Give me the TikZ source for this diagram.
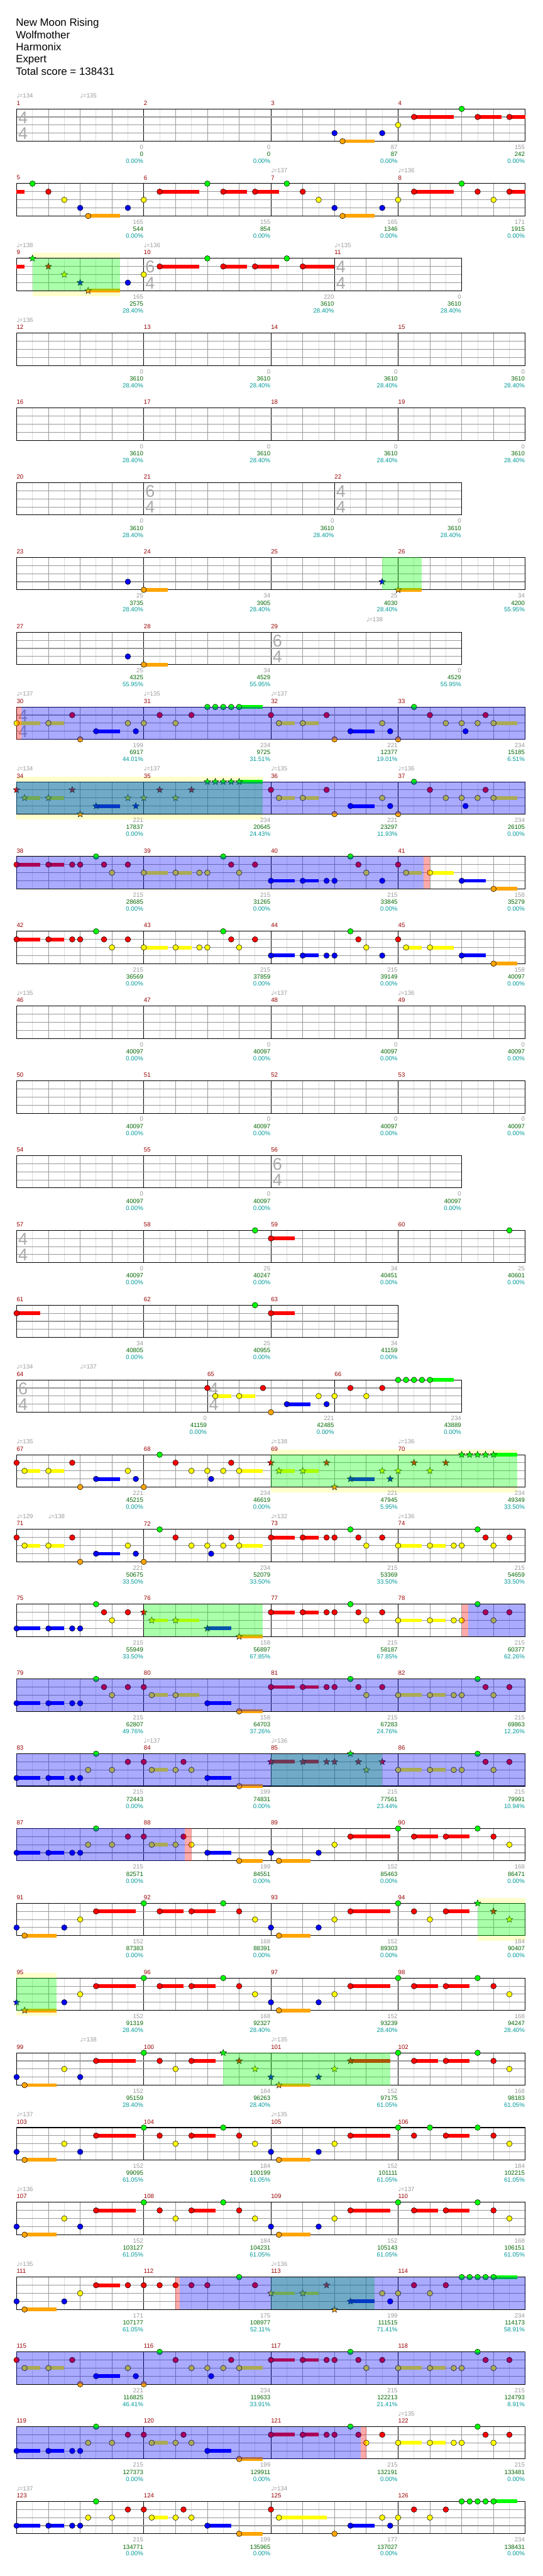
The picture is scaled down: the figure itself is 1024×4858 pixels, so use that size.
\documentclass[tikz,border=0pt]{standalone}
\usepackage{fontspec}
\setmainfont{Liberation Sans}
\newfontfamily\notefont{DejaVu Sans}
\usepackage{tikz}
\usetikzlibrary{shapes.geometric}

\definecolor{noteG}{HTML}{00FF00}
\definecolor{noteR}{HTML}{FF0000}
\definecolor{noteY}{HTML}{FFFF00}
\definecolor{noteB}{HTML}{0000FF}
\definecolor{noteO}{HTML}{FFA500}
\definecolor{barred}{HTML}{990000}
\definecolor{gaingray}{HTML}{9A9A9A}
\definecolor{totalgreen}{HTML}{006600}
\definecolor{pctteal}{HTML}{009999}
\definecolor{tsgray}{HTML}{AAAAAA}
\definecolor{halo}{HTML}{FFFFCC}
\definecolor{gridlight}{HTML}{DDDDDD}
\definecolor{gridmid}{HTML}{999999}

\newcommand{\lblfont}{\fontsize{11.5}{13}\selectfont}
\def\laneG{0}\def\laneR{1}\def\laneY{2}\def\laneB{3}\def\laneO{4}

% staff of #1 beats, barlines at #2
\newcommand{\fretgrid}[2]{%
  \fill[white] (0,0) rectangle (#1,61);
  \pgfmathtruncatemacro\nhalf{2*#1-1}%
  \foreach \h in {1,...,\nhalf} \draw[eighthline] (\h/2,0) -- (\h/2,61);
  \pgfmathtruncatemacro\nbeat{#1-1}%
  \foreach \h in {1,...,\nbeat} \draw[beatline] (\h,0) -- (\h,61);
  \foreach \h in {#2} \draw[barline] (\h,0) -- (\h,61);
  \foreach \h in {15.25,30.5,45.75} \draw[laneline] (0,\h) -- (#1,\h);
  \draw[staffframe] (0,0) rectangle (#1,61);
}
\newcommand{\tails}[1]{\foreach \a/\e/\l in {#1}{%
  \edef\ly{\csname lane\l\endcsname}%
  \fill[fill=note\l] (\a,15.25*\ly-3.5) rectangle (\e,15.25*\ly+3.5);}}
\newcommand{\gems}[1]{\foreach \b/\l [count=\k] in {#1}{%
  \edef\ly{\csname lane\l\endcsname}%
  \node[gem=\l] (gem\k) at (\b,15.25*\ly) {};}}
\newcommand{\stargems}[1]{\foreach \b/\l [count=\k] in {#1}{%
  \edef\ly{\csname lane\l\endcsname}%
  \node[stargem=\l] (star\k) at (\b,15.25*\ly) {};}}
\newcommand{\tsig}[3]{%
  \node[tsnum] (tsa#1) at (#1,16.4) {#2};
  \node[tsnum] (tsb#1) at (#1,46.4) {#3};}
\newcommand{\tempo}[2]{\node[lbltempo] (tp#1) at (#1,-20.5) {{\notefont ♩}\kern-0.5pt=#2};}
\newcommand{\meas}[6]{%
  \node[lblbar] (m#3) at (#1,-11) {#3};
  \node[lblgain] (g#3) at (#2,72.4) {#4};
  \node[lbltotal] (s#3) at (#2,85.7) {#5};
  \node[lblpct] (p#3) at (#2,98.7) {#6\%};}
\newcommand{\spzone}[2]{\fill[spfill] (#1,0) rectangle (#2,61);}
\newcommand{\odzone}[2]{\fill[odfill] (#1,0) rectangle (#2,61);}
\newcommand{\actzone}[2]{\fill[actfill] (#1,0) rectangle (#2,61);}
\newcommand{\halozone}[2]{\fill[halofill] (#1,-10) rectangle (#2,71.3);}

\begin{document}
\begin{tikzpicture}[
  x=1pt, y=-1pt,
  chartrow/.style={shift={(31.3,64.3+141*#1)}, x=60pt, name prefix=r#1-},
  eighthline/.style={gridlight, line width=1pt},
  beatline/.style={gridmid, line width=1pt},
  laneline/.style={gridmid, line width=1.3pt},
  barline/.style={black, line width=1pt},
  staffframe/.style={black, line width=1.2pt},
  gem/.style={circle, draw=black, line width=0.6pt, fill=note#1,
              minimum size=10.5pt, inner sep=0pt},
  stargem/.style={star, star points=5, star point ratio=2.3, draw=black,
              line width=0.5pt, fill=note#1, minimum size=13pt, inner sep=0pt},
  spfill/.style={fill=green, fill opacity=0.333},
  odfill/.style={fill=blue, fill opacity=0.333},
  actfill/.style={fill=red, fill opacity=0.333},
  halofill/.style={fill=halo},
  tsnum/.style={anchor=west, inner sep=0pt, xshift=3pt,
              font=\fontsize{32}{32}\selectfont, text=tsgray},
  lblbar/.style={anchor=west, inner sep=0pt, font=\lblfont, text=barred},
  lblgain/.style={anchor=east, inner sep=0pt, xshift=-0.8pt, font=\lblfont, text=gaingray},
  lbltotal/.style={anchor=east, inner sep=0pt, xshift=-0.8pt, font=\lblfont, text=totalgreen},
  lblpct/.style={anchor=east, inner sep=0pt, xshift=-0.8pt, font=\lblfont, text=pctteal},
  lbltempo/.style={anchor=base west, inner sep=0pt, font=\lblfont, text=gaingray},
  headtxt/.style={anchor=base west, inner sep=0pt, font=\fontsize{20}{23}\selectfont}
]
\fill[white] (0,0) rectangle (1024,4858);
\useasboundingbox (0,0) rectangle (1024,4858);

% Header
\node[headtxt] (song)    at (29.8,49.3)  {New Moon Rising};
\node[headtxt] (artist)  at (29.8,72.4)  {Wolfmother};
\node[headtxt] (charter) at (29.8,95.5)  {Harmonix};
\node[headtxt] (level)   at (29.8,118.6) {Expert};
\node[headtxt] (total)   at (29.8,141.7) {Total score = 138431};

% m1-m4
\begin{scope}[chartrow=1]
\fretgrid{16}{4,8,12}
\tsig{0}{4}{4}
\tails{10.25/11.25/O, 12.5/13.75/R, 14.5/15.25/R, 15.5/16/R}
\gems{10/B, 10.25/O, 11.5/B, 12/Y, 12.5/R, 14/G, 14.5/R, 15.5/R}
\tempo{0}{134}\tempo{2}{135}
\meas{0}{4}{1}{0}{0}{0.00}
\meas{4}{8}{2}{0}{0}{0.00}
\meas{8}{12}{3}{87}{87}{0.00}
\meas{12}{16}{4}{155}{242}{0.00}
\end{scope}

% m5-m8
\begin{scope}[chartrow=2]
\fretgrid{16}{4,8,12}
\tails{0/0.25/R, 2.25/3.25/O, 4.5/5.75/R, 6.5/7.25/R, 7.5/8.25/R, 10.25/11.25/O, 12.5/13.75/R, 15.5/16/R}
\gems{0.5/G, 1/R, 1.5/Y, 2/B, 2.25/O, 3.5/B, 4/Y, 4.5/R, 6/G, 6.5/R, 7.5/R, 8.5/G, 9/R, 9.5/Y, 10/B, 10.25/O, 11.5/B, 12/Y, 12.5/R, 14/G, 14.5/R, 15/Y, 15.5/R}
\tempo{8}{137}\tempo{12}{136}
\meas{0}{4}{5}{165}{544}{0.00}
\meas{4}{8}{6}{155}{854}{0.00}
\meas{8}{12}{7}{165}{1346}{0.00}
\meas{12}{16}{8}{171}{1915}{0.00}
\end{scope}

% m9-m11
\begin{scope}[chartrow=3]
\halozone{0.5}{3.25}
\fretgrid{14}{4,10}
\tsig{4}{6}{4}\tsig{10}{4}{4}
\tails{0/0.25/R, 2.25/3.25/O, 4.5/5.75/R, 6.5/7.25/R, 7.5/8.25/R, 9/10/R}
\stargems{0.5/G, 1/R, 1.5/Y, 2/B, 2.25/O}
\gems{3.5/B, 4/Y, 4.5/R, 6/G, 6.5/R, 7.5/R, 8.5/G, 9/R}
\spzone{0.5}{3.25}
\tempo{0}{138}\tempo{4}{136}\tempo{10}{135}
\meas{0}{4}{9}{165}{2575}{28.40}
\meas{4}{10}{10}{220}{3610}{28.40}
\meas{10}{14}{11}{0}{3610}{28.40}
\end{scope}

% m12-m15
\begin{scope}[chartrow=4]
\fretgrid{16}{4,8,12}
\tempo{0}{136}
\meas{0}{4}{12}{0}{3610}{28.40}
\meas{4}{8}{13}{0}{3610}{28.40}
\meas{8}{12}{14}{0}{3610}{28.40}
\meas{12}{16}{15}{0}{3610}{28.40}
\end{scope}

% m16-m19
\begin{scope}[chartrow=5]
\fretgrid{16}{4,8,12}
\meas{0}{4}{16}{0}{3610}{28.40}
\meas{4}{8}{17}{0}{3610}{28.40}
\meas{8}{12}{18}{0}{3610}{28.40}
\meas{12}{16}{19}{0}{3610}{28.40}
\end{scope}

% m20-m22
\begin{scope}[chartrow=6]
\fretgrid{14}{4,10}
\tsig{4}{6}{4}\tsig{10}{4}{4}
\meas{0}{4}{20}{0}{3610}{28.40}
\meas{4}{10}{21}{0}{3610}{28.40}
\meas{10}{14}{22}{0}{3610}{28.40}
\end{scope}

% m23-m26
\begin{scope}[chartrow=7]
\fretgrid{16}{4,8,12}
\tails{4/4.75/O, 12/12.75/O}
\gems{3.5/B, 4/O}
\stargems{11.5/B, 12/O}
\spzone{11.5}{12.75}
\meas{0}{4}{23}{25}{3735}{28.40}
\meas{4}{8}{24}{34}{3905}{28.40}
\meas{8}{12}{25}{25}{4030}{28.40}
\meas{12}{16}{26}{34}{4200}{55.95}
\end{scope}

% m27-m29
\begin{scope}[chartrow=8]
\fretgrid{14}{4,8}
\tsig{8}{6}{4}
\tails{4/4.75/O}
\gems{3.5/B, 4/O}
\tempo{11}{138}
\meas{0}{4}{27}{25}{4325}{55.95}
\meas{4}{8}{28}{34}{4529}{55.95}
\meas{8}{14}{29}{0}{4529}{55.95}
\end{scope}

% m30-m33
\begin{scope}[chartrow=9]
\fretgrid{16}{4,8,12}
\tsig{0}{4}{4}
\tails{0/0.75/Y, 1/1.5/Y, 2.5/3.25/B, 7/7.75/G, 8.25/8.75/Y, 9/9.5/Y, 10.5/11.25/B, 15/15.75/Y}
\gems{0/Y, 1/Y, 1.75/R, 2/O, 2.5/B, 3.5/Y, 3.75/B, 4/Y, 4.5/R, 5/Y, 5.5/R, 6/G, 6.25/G, 6.5/G, 6.75/G, 7/G, 8/R, 8.25/Y, 9/Y, 9.75/R, 10/O, 10.5/B, 11.5/Y, 11.75/B, 12/O, 12.5/G, 13/R, 13.5/Y, 14/Y, 14.12/B, 14.5/Y, 14.75/R, 15/Y}
\actzone{0}{0.16}\odzone{0.16}{16}
\tempo{0}{137}\tempo{4}{135}\tempo{8}{137}
\meas{0}{4}{30}{199}{6917}{44.01}
\meas{4}{8}{31}{234}{9725}{31.51}
\meas{8}{12}{32}{221}{12377}{19.01}
\meas{12}{16}{33}{234}{15185}{6.51}
\end{scope}

% m34-m37
\begin{scope}[chartrow=10]
\halozone{0}{7.75}
\fretgrid{16}{4,8,12}
\tails{0.25/0.75/Y, 1/1.5/Y, 2.5/3.25/B, 7/7.75/G, 8.25/8.75/Y, 9/9.5/Y, 10.5/11.25/B, 15/15.75/Y}
\stargems{0/R, 0.25/Y, 1/Y, 1.75/R, 2/O, 2.5/B, 3.5/Y, 3.75/B, 4/Y, 4.5/R, 5/Y, 5.5/R, 6/G, 6.25/G, 6.5/G, 6.75/G, 7/G}
\gems{8/R, 8.25/Y, 9/Y, 9.75/R, 10/O, 10.5/B, 11.5/Y, 11.75/B, 12/O, 12.5/G, 13/R, 13.5/Y, 14/Y, 14.12/B, 14.5/Y, 14.75/R, 15/Y}
\spzone{0}{7.75}\odzone{0}{16}
\tempo{0}{134}\tempo{4}{137}\tempo{8}{135}\tempo{12}{136}
\meas{0}{4}{34}{221}{17837}{0.00}
\meas{4}{8}{35}{234}{20645}{24.43}
\meas{8}{12}{36}{221}{23297}{11.93}
\meas{12}{16}{37}{234}{26105}{0.00}
\end{scope}

% m38-m41
\begin{scope}[chartrow=11]
\fretgrid{16}{4,8,12}
\tails{0/0.75/R, 1/1.5/R, 4/4.75/Y, 5/5.5/Y, 8/8.75/B, 9/9.5/B, 12.25/12.75/Y, 13/13.75/Y, 14/14.75/B, 15/15.75/O}
\gems{0/R, 1/R, 1.75/R, 2/R, 2.5/G, 2.75/R, 3/Y, 3.5/R, 4/Y, 5/Y, 5.75/Y, 6/Y, 6.5/G, 6.75/R, 7/Y, 7.5/R, 8/B, 9/B, 9.75/B, 10/B, 10.5/G, 10.75/R, 11/Y, 11.5/B, 12/R, 12.25/Y, 13/Y, 14/B, 15/O}
\odzone{0}{12.8}\actzone{12.8}{13}
\meas{0}{4}{38}{215}{28685}{0.00}
\meas{4}{8}{39}{215}{31265}{0.00}
\meas{8}{12}{40}{215}{33845}{0.00}
\meas{12}{16}{41}{158}{35279}{0.00}
\end{scope}

% m42-m45
\begin{scope}[chartrow=12]
\fretgrid{16}{4,8,12}
\tails{0/0.75/R, 1/1.5/R, 4/4.75/Y, 5/5.5/Y, 8/8.75/B, 9/9.5/B, 12.25/12.75/Y, 13/13.75/Y, 14/14.75/B, 15/15.75/O}
\gems{0/R, 1/R, 1.75/R, 2/R, 2.5/G, 2.75/R, 3/Y, 3.5/R, 4/Y, 5/Y, 5.75/Y, 6/Y, 6.5/G, 6.75/R, 7/Y, 7.5/R, 8/B, 9/B, 9.75/B, 10/B, 10.5/G, 10.75/R, 11/Y, 11.5/B, 12/R, 12.25/Y, 13/Y, 14/B, 15/O}
\meas{0}{4}{42}{215}{36569}{0.00}
\meas{4}{8}{43}{215}{37859}{0.00}
\meas{8}{12}{44}{215}{39149}{0.00}
\meas{12}{16}{45}{158}{40097}{0.00}
\end{scope}

% m46-m49
\begin{scope}[chartrow=13]
\fretgrid{16}{4,8,12}
\tempo{0}{135}\tempo{8}{137}\tempo{12}{136}
\meas{0}{4}{46}{0}{40097}{0.00}
\meas{4}{8}{47}{0}{40097}{0.00}
\meas{8}{12}{48}{0}{40097}{0.00}
\meas{12}{16}{49}{0}{40097}{0.00}
\end{scope}

% m50-m53
\begin{scope}[chartrow=14]
\fretgrid{16}{4,8,12}
\meas{0}{4}{50}{0}{40097}{0.00}
\meas{4}{8}{51}{0}{40097}{0.00}
\meas{8}{12}{52}{0}{40097}{0.00}
\meas{12}{16}{53}{0}{40097}{0.00}
\end{scope}

% m54-m56
\begin{scope}[chartrow=15]
\fretgrid{14}{4,8}
\tsig{8}{6}{4}
\meas{0}{4}{54}{0}{40097}{0.00}
\meas{4}{8}{55}{0}{40097}{0.00}
\meas{8}{14}{56}{0}{40097}{0.00}
\end{scope}

% m57-m60
\begin{scope}[chartrow=16]
\fretgrid{16}{4,8,12}
\tsig{0}{4}{4}
\tails{8/8.75/R}
\gems{7.5/G, 8/R, 15.5/G}
\meas{0}{4}{57}{0}{40097}{0.00}
\meas{4}{8}{58}{25}{40247}{0.00}
\meas{8}{12}{59}{34}{40451}{0.00}
\meas{12}{16}{60}{25}{40601}{0.00}
\end{scope}

% m61-m63
\begin{scope}[chartrow=17]
\fretgrid{12}{4,8}
\tails{0/0.75/R, 8/8.75/R}
\gems{0/R, 7.5/G, 8/R}
\meas{0}{4}{61}{34}{40805}{0.00}
\meas{4}{8}{62}{25}{40955}{0.00}
\meas{8}{12}{63}{34}{41159}{0.00}
\end{scope}

% m64-m66
\begin{scope}[chartrow=18]
\fretgrid{14}{6,10}
\tsig{0}{6}{4}\tsig{6}{4}{4}
\tails{6.25/6.75/Y, 7/7.5/Y, 8.5/9.25/B, 13/13.75/G}
\gems{6/R, 6.25/Y, 7/Y, 7.75/R, 8/O, 8.5/B, 9.5/Y, 9.75/B, 10/Y, 10.5/R, 11/Y, 11.5/R, 12/G, 12.25/G, 12.5/G, 12.75/G, 13/G}
\tempo{0}{134}\tempo{2}{137}
\meas{0}{6}{64}{0}{41159}{0.00}
\meas{6}{10}{65}{221}{42485}{0.00}
\meas{10}{14}{66}{234}{43889}{0.00}
\end{scope}

% m67-m70
\begin{scope}[chartrow=19]
\halozone{8}{15.75}
\fretgrid{16}{4,8,12}
\tails{0.25/0.75/Y, 1/1.5/Y, 2.5/3.25/B, 7/7.75/Y, 8.25/8.75/Y, 9/9.5/Y, 10.5/11.25/B, 15/15.75/G}
\gems{0/R, 0.25/Y, 1/Y, 1.75/R, 2/O, 2.5/B, 3.5/Y, 3.75/B, 4/O, 4.5/G, 5/R, 5.5/Y, 6/Y, 6.12/B, 6.5/Y, 6.75/R, 7/Y}
\stargems{8/R, 8.25/Y, 9/Y, 9.75/R, 10/O, 10.5/B, 11.5/Y, 11.75/B, 12/Y, 12.5/R, 13/Y, 13.5/R, 14/G, 14.25/G, 14.5/G, 14.75/G, 15/G}
\spzone{8}{15.75}
\tempo{0}{135}\tempo{8}{138}\tempo{12}{136}
\meas{0}{4}{67}{221}{45215}{0.00}
\meas{4}{8}{68}{234}{46619}{0.00}
\meas{8}{12}{69}{221}{47945}{5.95}
\meas{12}{16}{70}{234}{49349}{33.50}
\end{scope}

% m71-m74
\begin{scope}[chartrow=20]
\fretgrid{16}{4,8,12}
\tails{0.25/0.75/Y, 1/1.5/Y, 2.5/3.25/B, 7/7.75/Y, 8/8.75/R, 9/9.5/R, 12/12.75/Y, 13/13.5/Y}
\gems{0/R, 0.25/Y, 1/Y, 1.75/R, 2/O, 2.5/B, 3.5/Y, 3.75/B, 4/O, 4.5/G, 5/R, 5.5/Y, 6/Y, 6.12/B, 6.5/Y, 6.75/R, 7/Y, 8/R, 9/R, 9.75/R, 10/R, 10.5/G, 10.75/R, 11/Y, 11.5/R, 12/Y, 13/Y, 13.75/Y, 14/Y, 14.5/G, 14.75/R, 15/Y, 15.5/R}
\tempo{0}{129}\tempo{1}{138}\tempo{8}{132}\tempo{12}{136}
\meas{0}{4}{71}{221}{50675}{33.50}
\meas{4}{8}{72}{234}{52079}{33.50}
\meas{8}{12}{73}{215}{53369}{33.50}
\meas{12}{16}{74}{215}{54659}{33.50}
\end{scope}

% m75-m78
\begin{scope}[chartrow=21]
\fretgrid{16}{4,8,12}
\tails{0/0.75/B, 1/1.5/B, 4.25/4.75/Y, 5/5.75/Y, 6/6.75/B, 7/7.75/O, 8/8.75/R, 9/9.5/R, 12/12.75/Y, 13/13.5/Y}
\gems{0/B, 1/B, 1.75/B, 2/B, 2.5/G, 2.75/R, 3/Y, 3.5/R, 8/R, 9/R, 9.75/R, 10/R, 10.5/G, 10.75/R, 11/Y, 11.5/R, 12/Y, 13/Y, 13.75/Y, 14/Y, 14.5/G, 14.75/R, 15/Y, 15.5/R}
\stargems{4/R, 4.25/Y, 5/Y, 6/B, 7/O}
\spzone{4}{7.75}\actzone{14}{14.2}\odzone{14.2}{16}
\meas{0}{4}{75}{215}{55949}{33.50}
\meas{4}{8}{76}{158}{56897}{67.85}
\meas{8}{12}{77}{215}{58187}{67.85}
\meas{12}{16}{78}{215}{60377}{62.26}
\end{scope}

% m79-m82
\begin{scope}[chartrow=22]
\fretgrid{16}{4,8,12}
\tails{0/0.75/B, 1/1.5/B, 4.25/4.75/Y, 5/5.75/Y, 6/6.75/B, 7/7.75/O, 8/8.75/R, 9/9.5/R, 12/12.75/Y, 13/13.5/Y}
\gems{0/B, 1/B, 1.75/B, 2/B, 2.5/G, 2.75/R, 3/Y, 3.5/R, 4/R, 4.25/Y, 5/Y, 6/B, 7/O, 8/R, 9/R, 9.75/R, 10/R, 10.5/G, 10.75/R, 11/Y, 11.5/R, 12/Y, 13/Y, 13.75/Y, 14/Y, 14.5/G, 14.75/R, 15/Y, 15.5/R}
\odzone{0}{16}
\meas{0}{4}{79}{215}{62807}{49.76}
\meas{4}{8}{80}{158}{64703}{37.26}
\meas{8}{12}{81}{215}{67283}{24.76}
\meas{12}{16}{82}{215}{69863}{12.26}
\end{scope}

% m83-m86
\begin{scope}[chartrow=23]
\fretgrid{16}{4,8,12}
\tails{0/0.75/B, 1/1.5/B, 4.25/4.75/Y, 6/6.75/B, 7/7.75/O, 8/8.75/R, 9/9.5/R, 12/12.75/Y, 13/13.5/Y}
\gems{0/B, 1/B, 1.75/B, 2/B, 2.25/Y, 2.5/G, 3/Y, 3.5/R, 4/R, 4.25/Y, 5/Y, 5.25/R, 5.5/Y, 6/B, 7/O, 12/Y, 13/Y, 13.75/Y, 14/Y, 14.5/G, 14.75/R, 15/Y, 15.5/R}
\stargems{8/R, 9/R, 9.75/R, 10/R, 10.5/G, 10.75/R, 11/Y, 11.5/R}
\spzone{8}{11.5}\odzone{0}{16}
\tempo{4}{137}\tempo{8}{136}
\meas{0}{4}{83}{215}{72443}{0.00}
\meas{4}{8}{84}{199}{74831}{0.00}
\meas{8}{12}{85}{215}{77561}{23.44}
\meas{12}{16}{86}{215}{79991}{10.94}
\end{scope}

% m87-m90
\begin{scope}[chartrow=24]
\fretgrid{16}{4,8,12}
\tails{0/0.75/B, 1/1.5/B, 4.25/4.75/Y, 6/6.75/B, 7/7.75/O, 8.25/9.25/O, 10.5/11.75/R, 12.5/13.25/R, 13.5/14.25/R}
\gems{0/B, 1/B, 1.75/B, 2/B, 2.25/Y, 2.5/G, 3/Y, 3.5/R, 4/R, 4.25/Y, 5/Y, 5.25/R, 5.5/Y, 6/B, 7/O, 8/B, 8.25/O, 9.5/B, 10/Y, 10.5/R, 12/G, 12.5/R, 13.5/R, 14.5/G, 15/R, 15.5/Y}
\odzone{0}{5.28}\actzone{5.28}{5.5}
\meas{0}{4}{87}{215}{82571}{0.00}
\meas{4}{8}{88}{199}{84551}{0.00}
\meas{8}{12}{89}{152}{85463}{0.00}
\meas{12}{16}{90}{168}{86471}{0.00}
\end{scope}

% m91-m94
\begin{scope}[chartrow=25]
\halozone{14.5}{16}
\fretgrid{16}{4,8,12}
\tails{0.25/1.25/O, 2.5/3.75/R, 4.5/5.25/R, 5.5/6.25/R, 8.25/9.25/O, 10.5/11.75/R, 13.5/14.25/R}
\gems{0/B, 0.25/O, 1.5/B, 2/Y, 2.5/R, 4/G, 4.5/R, 5.5/R, 6.5/G, 7/R, 7.5/Y, 8/B, 8.25/O, 9.5/B, 10/Y, 10.5/R, 12/G, 12.5/R, 13/Y, 13.5/R}
\stargems{14.5/G, 15/R, 15.5/Y}
\spzone{14.5}{16}
\meas{0}{4}{91}{152}{87383}{0.00}
\meas{4}{8}{92}{168}{88391}{0.00}
\meas{8}{12}{93}{152}{89303}{0.00}
\meas{12}{16}{94}{184}{90407}{0.00}
\end{scope}

% m95-m98
\begin{scope}[chartrow=26]
\halozone{0}{1.25}
\fretgrid{16}{4,8,12}
\tails{0.25/1.25/O, 2.5/3.75/R, 4.5/5.25/R, 5.5/6.25/R, 8.25/9.25/O, 10.5/11.75/R, 12.5/13.25/R, 13.5/14.25/R}
\stargems{0/B, 0.25/O}
\gems{1.5/B, 2/Y, 2.5/R, 4/G, 4.5/R, 5.5/R, 6.5/G, 7/R, 7.5/Y, 8/B, 8.25/O, 9.5/B, 10/Y, 10.5/R, 12/G, 12.5/R, 13.5/R, 14.5/G, 15/R, 15.5/Y}
\spzone{0}{1.25}
\meas{0}{4}{95}{152}{91319}{28.40}
\meas{4}{8}{96}{168}{92327}{28.40}
\meas{8}{12}{97}{152}{93239}{28.40}
\meas{12}{16}{98}{168}{94247}{28.40}
\end{scope}

% m99-m102
\begin{scope}[chartrow=27]
\fretgrid{16}{4,8,12}
\tails{0.25/1.25/O, 2.5/3.75/R, 5.5/6.25/R, 8.25/9.25/O, 10.5/11.75/R, 12.5/13.25/R, 13.5/14.25/R}
\gems{0/B, 0.25/O, 1.5/Y, 2/B, 2.5/R, 4/G, 4.5/R, 5/Y, 5.5/R, 12/G, 12.5/R, 13.5/R, 14.5/G, 15/R, 15.5/Y}
\stargems{6.5/G, 7/R, 7.5/Y, 8/B, 8.25/O, 9.5/B, 10/Y, 10.5/R}
\spzone{6.5}{11.75}
\tempo{2}{138}\tempo{8}{135}
\meas{0}{4}{99}{152}{95159}{28.40}
\meas{4}{8}{100}{184}{96263}{28.40}
\meas{8}{12}{101}{152}{97175}{61.05}
\meas{12}{16}{102}{168}{98183}{61.05}
\end{scope}

% m103-m106
\begin{scope}[chartrow=28]
\fretgrid{16}{4,8,12}
\tails{0.25/1.25/O, 2.5/3.75/R, 5.5/6.25/R, 8.25/9.25/O, 10.5/11.75/R, 13.5/14.25/R}
\gems{0/B, 0.25/O, 1.5/Y, 2/B, 2.5/R, 4/G, 4.5/R, 5/Y, 5.5/R, 6.5/G, 7/R, 7.5/Y, 8/B, 8.25/O, 9.5/B, 10/Y, 10.5/R, 12/G, 12.5/R, 13/G, 13.5/R, 14.5/G, 15/R, 15.5/Y}
\tempo{0}{137}\tempo{8}{135}
\meas{0}{4}{103}{152}{99095}{61.05}
\meas{4}{8}{104}{184}{100199}{61.05}
\meas{8}{12}{105}{152}{101111}{61.05}
\meas{12}{16}{106}{184}{102215}{61.05}
\end{scope}

% m107-m110
\begin{scope}[chartrow=29]
\fretgrid{16}{4,8,12}
\tails{0.25/1.25/O, 2.5/3.75/R, 5.5/6.25/R, 8.25/9.25/O, 10.5/11.75/R, 12.5/13.25/R, 13.5/14.25/R}
\gems{0/B, 0.25/O, 1.5/Y, 2/B, 2.5/R, 4/G, 4.5/R, 5/Y, 5.5/R, 6.5/G, 7/R, 7.5/Y, 8/B, 8.25/O, 9.5/B, 10/Y, 10.5/R, 12/G, 12.5/R, 13.5/R, 14.5/G, 15/R, 15.5/Y}
\tempo{0}{136}\tempo{12}{137}
\meas{0}{4}{107}{152}{103127}{61.05}
\meas{4}{8}{108}{184}{104231}{61.05}
\meas{8}{12}{109}{152}{105143}{61.05}
\meas{12}{16}{110}{168}{106151}{61.05}
\end{scope}

% m111-m114
\begin{scope}[chartrow=30]
\fretgrid{16}{4,8,12}
\tails{0.25/1.25/O, 2.5/3.25/R, 8/8.75/Y, 9/9.5/Y, 10.5/11.25/B, 15/15.75/G}
\gems{0/B, 0.25/O, 1.5/B, 2/Y, 2.5/R, 3.5/R, 4/R, 4.5/R, 5/R, 5.5/R, 6/R, 7/G, 7.5/R, 11.5/Y, 11.75/B, 12/Y, 12.5/R, 13/Y, 13.5/R, 14/G, 14.25/G, 14.5/G, 14.75/G, 15/G}
\stargems{8/Y, 9/Y, 9.75/R, 10/O, 10.5/B}
\spzone{8}{11.25}\actzone{5}{5.13}\odzone{5.13}{16}
\tempo{0}{135}\tempo{8}{136}
\meas{0}{4}{111}{171}{107177}{61.05}
\meas{4}{8}{112}{175}{108977}{52.11}
\meas{8}{12}{113}{199}{111515}{71.41}
\meas{12}{16}{114}{234}{114173}{58.91}
\end{scope}

% m115-m118
\begin{scope}[chartrow=31]
\fretgrid{16}{4,8,12}
\tails{0.25/0.75/Y, 1/1.5/Y, 2.5/3.25/B, 7/7.75/Y, 8/8.75/R, 9/9.5/R, 12/12.75/Y, 13/13.5/Y}
\gems{0/R, 0.25/Y, 1/Y, 1.75/R, 2/O, 2.5/B, 3.5/Y, 3.75/B, 4/O, 4.5/G, 5/R, 5.5/Y, 6/Y, 6.12/B, 6.5/Y, 6.75/R, 7/Y, 8/R, 9/R, 9.75/R, 10/R, 10.5/G, 10.75/R, 11/Y, 11.5/R, 12/Y, 13/Y, 13.75/Y, 14/Y, 14.5/G, 14.75/R, 15/Y, 15.5/R}
\odzone{0}{16}
\meas{0}{4}{115}{221}{116825}{46.41}
\meas{4}{8}{116}{234}{119633}{33.91}
\meas{8}{12}{117}{215}{122213}{21.41}
\meas{12}{16}{118}{215}{124793}{8.91}
\end{scope}

% m119-m122
\begin{scope}[chartrow=32]
\fretgrid{16}{4,8,12}
\tails{0/0.75/B, 1/1.5/B, 4.25/4.75/Y, 6/6.75/B, 7/7.75/O, 8/8.75/R, 9/9.5/R, 12/12.75/Y, 13/13.5/Y}
\gems{0/B, 1/B, 1.75/B, 2/B, 2.25/Y, 2.5/G, 3/Y, 3.5/R, 4/R, 4.25/Y, 5/Y, 5.25/R, 5.5/Y, 6/B, 7/O, 8/R, 9/R, 9.75/R, 10/R, 10.5/G, 10.75/R, 11/Y, 11.5/R, 12/Y, 13/Y, 13.75/Y, 14/Y, 14.5/G, 14.75/R, 15/Y, 15.5/R}
\odzone{0}{10.83}\actzone{10.83}{11}
\tempo{12}{135}
\meas{0}{4}{119}{215}{127373}{0.00}
\meas{4}{8}{120}{199}{129911}{0.00}
\meas{8}{12}{121}{215}{132191}{0.00}
\meas{12}{16}{122}{215}{133481}{0.00}
\end{scope}

% m123-m126
\begin{scope}[chartrow=33]
\fretgrid{16}{4,8,12}
\tails{0/0.75/B, 1/1.5/B, 4.25/4.75/Y, 6/6.75/B, 7/7.75/O, 8.25/9.75/Y, 10.5/11.25/B, 15/15.75/G}
\gems{0/B, 1/B, 1.75/B, 2/B, 2.25/Y, 2.5/G, 3/Y, 3.5/R, 4/R, 4.25/Y, 5/Y, 5.25/R, 5.5/Y, 6/B, 7/O, 8/R, 8.25/Y, 10/O, 10.5/B, 11.5/Y, 11.75/B, 12/Y, 12.5/R, 13/Y, 13.5/R, 14/G, 14.25/G, 14.5/G, 14.75/G, 15/G}
\tempo{0}{137}\tempo{8}{134}
\meas{0}{4}{123}{215}{134771}{0.00}
\meas{4}{8}{124}{199}{135965}{0.00}
\meas{8}{12}{125}{177}{137027}{0.00}
\meas{12}{16}{126}{234}{138431}{0.00}
\end{scope}

\end{tikzpicture}
\end{document}
